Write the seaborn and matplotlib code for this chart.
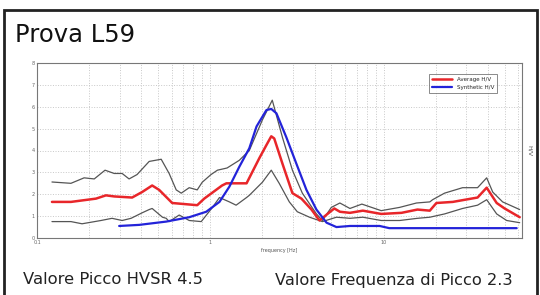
import matplotlib
matplotlib.use("Agg")
import matplotlib.pyplot as plt
import seaborn as sns
import pandas as pd
from matplotlib.patches import Rectangle

# frequency [Hz] / H/V values
freq_upper = [0.122, 0.157, 0.187, 0.214, 0.247, 0.279, 0.31, 0.34, 0.378, 0.444, 0.521,
              0.579, 0.636, 0.68, 0.756, 0.841, 0.899, 1.01, 1.10, 1.25, 1.47, 1.68, 2.0,
              2.28, 2.61, 2.98, 3.4, 4.1, 4.44, 5.0, 5.6, 6.4, 7.5, 9.7, 12.4, 15.5, 18.5,
              19.2, 22.5, 28.6, 34.9, 39.4, 42.7, 48.7, 61.1]
hv_upper = [2.56, 2.5, 2.75, 2.7, 3.1, 2.95, 2.95, 2.7, 2.9, 3.5, 3.6,
            2.95, 2.2, 2.05, 2.3, 2.2, 2.55, 2.9, 3.1, 3.2, 3.55, 4.0, 5.4,
            6.3, 4.6, 3.1, 2.05, 1.1, 0.8, 1.4, 1.6, 1.35, 1.55, 1.25, 1.4, 1.6, 1.65,
            1.75, 2.05, 2.3, 2.3, 2.75, 2.1, 1.65, 1.3]

freq_avg = [0.122, 0.157, 0.219, 0.25, 0.279, 0.354, 0.404, 0.462, 0.507, 0.603, 0.841,
            0.923, 1.17, 1.24, 1.62, 1.92, 2.11, 2.25, 2.34, 2.61, 2.98, 3.36, 3.84,
            4.27, 4.75, 5.2, 5.6, 6.4, 7.6, 9.7, 12.7, 15.7, 18.5, 20.2, 25.1, 34.9,
            39.4, 45.0, 50.0, 61.1]
hv_avg = [1.65, 1.65, 1.8, 1.95, 1.9, 1.85, 2.1, 2.4, 2.2, 1.6, 1.5,
          1.8, 2.4, 2.5, 2.5, 3.65, 4.25, 4.65, 4.55, 3.4, 2.05, 1.8, 1.3,
          0.8, 1.1, 1.35, 1.2, 1.15, 1.25, 1.1, 1.15, 1.3, 1.25, 1.6, 1.65, 1.85,
          2.3, 1.6, 1.35, 0.95]

freq_lower = [0.122, 0.157, 0.182, 0.234, 0.271, 0.31, 0.349, 0.404, 0.444, 0.462, 0.53,
              0.557, 0.579, 0.662, 0.756, 0.887, 1.03, 1.13, 1.29, 1.41, 1.62, 1.68, 2.0,
              2.25, 2.5, 2.86, 3.18, 3.74, 4.44, 5.35, 6.4, 7.6, 9.7, 12.4, 15.7, 18.5,
              22.5, 28.6, 34.9, 39.4, 45.0, 51.4, 61.1]
hv_lower = [0.75, 0.75, 0.65, 0.8, 0.9, 0.8, 0.9, 1.15, 1.3, 1.35, 0.95,
            0.9, 0.75, 1.05, 0.8, 0.75, 1.4, 1.85, 1.65, 1.5, 1.85, 1.95, 2.55,
            3.1, 2.5, 1.65, 1.2, 0.95, 0.75, 0.95, 0.9, 0.95, 0.8, 0.8, 0.9, 0.95,
            1.1, 1.35, 1.5, 1.75, 1.1, 0.8, 0.7]

freq_synth = [0.298, 0.389, 0.557, 0.756, 0.948, 1.13, 1.29, 1.47, 1.68, 1.85, 2.11,
              2.25, 2.41, 2.75, 3.14, 3.59, 4.1, 4.69, 5.35, 6.4, 9.5, 10.8, 58.7]
hv_synth = [0.55, 0.6, 0.75, 0.95, 1.2, 1.65, 2.35, 3.25, 4.1, 5.1, 5.85,
            5.9, 5.7, 4.6, 3.4, 2.2, 1.3, 0.7, 0.5, 0.55, 0.55, 0.45, 0.45]

sns.set_theme(style="white")
plt.rcParams['font.family'] = ['DejaVu Sans']

fig = plt.figure(figsize=(5.4, 2.95), dpi=100)
ax = fig.add_axes([37/540, 1-238/295, 485/540, 175/295])

# grey envelope curves
sns.lineplot(x=freq_upper, y=hv_upper, ax=ax, color="#555555", lw=0.9)
sns.lineplot(x=freq_lower, y=hv_lower, ax=ax, color="#555555", lw=0.9)
# average and synthetic
sns.lineplot(x=freq_avg, y=hv_avg, ax=ax, color="#e8262a", lw=1.8, label="Average H/V")
sns.lineplot(x=freq_synth, y=hv_synth, ax=ax, color="#2323d9", lw=1.6, label="Synthetic H/V")

ax.set_xscale("log")
ax.set_xlim(0.1, 63)
ax.set_ylim(0, 8)
ax.set_xticks([0.1, 1, 10])
ax.set_xticklabels(["0.1", "1", "10"])
ax.set_yticks(range(0, 9))
ax.tick_params(axis="both", which="both", labelsize=3.5, colors="#666666", length=0, pad=1.5)
ax.tick_params(axis="x", which="minor", length=0)
ax.grid(True, which="both", linestyle=":", color="#c8c8c8", lw=0.7)
for s in ax.spines.values():
    s.set_color("#777777")
    s.set_linewidth(0.8)

ax.set_xlabel("frequency [Hz]", fontsize=3.5, color="#555555", labelpad=2)
ax.yaxis.set_label_position("right")
ax.set_ylabel("H/V", fontsize=4.5, color="#555555", rotation=270, labelpad=7)

leg = ax.legend(loc="upper right", bbox_to_anchor=(0.955, 0.955), fontsize=4, frameon=True,
                fancybox=False, edgecolor="#555555", handlelength=3.6, borderpad=0.6,
                labelspacing=0.5, handletextpad=0.8)
leg.get_frame().set_linewidth(0.6)

# outer panel frame and texts
fig.patches.append(Rectangle((4/540, -0.02), 533/540, 1-10/295+0.02, transform=fig.transFigure,
                             fill=False, edgecolor="#222222", lw=2))
fig.text(15/540, 1-35/295, "Prova L59", fontsize=17.5, va="center", ha="left", color="#111111")
fig.text(23/540, 1-280/295, "Valore Picco HVSR 4.5", fontsize=11.8, va="center", ha="left", color="#222222")
fig.text(275/540, 1-280/295, "Valore Frequenza di Picco 2.3", fontsize=11.7, va="center", ha="left", color="#222222")

fig.savefig("out.png", dpi=100)
